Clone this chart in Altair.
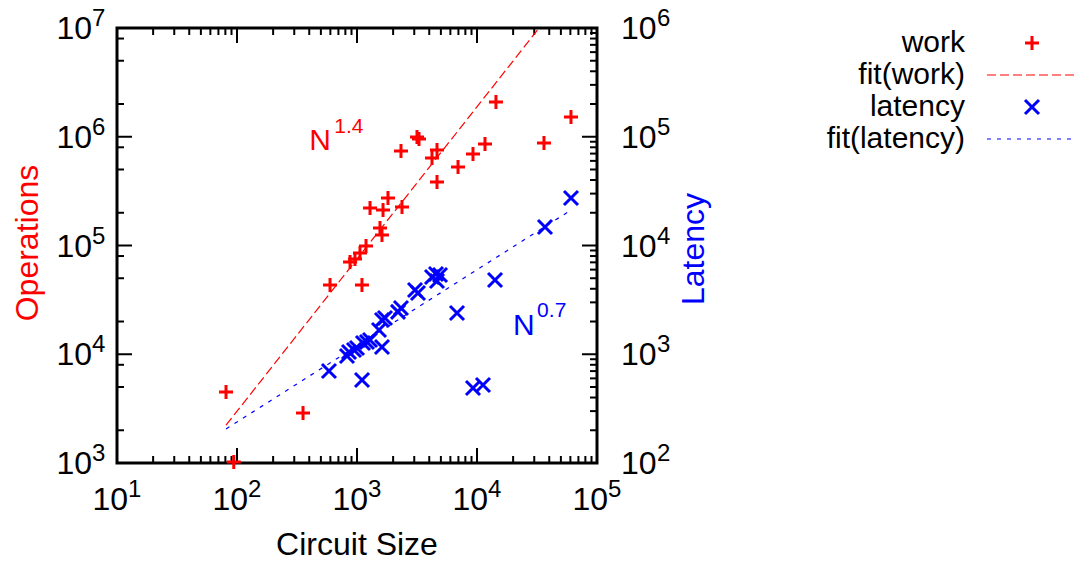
import altair as alt
import pandas as pd

FONT = "Liberation Sans"
RED = "#ff0000"
BLUE = "#0000ff"
W, H = 480, 435

# circuit size vs. operations (work)
work_size = [81, 94, 355, 596, 1100, 875, 962, 1059, 1189, 1555, 1615, 1284, 1648,
             1812, 2371, 2326, 3162, 3286, 4642, 4217, 4642, 6949, 9261, 11660,
             14390, 36150, 60700]
work_ops = [4500, 1020, 2880, 43300, 43300, 70500, 75100, 85300, 98900, 145000,
            125000, 221000, 212000, 273000, 226000, 740000, 995000, 953000,
            755000, 638000, 384000, 527000, 693000, 857000, 2090000, 877000,
            1520000]

# circuit size vs. latency
lat_size = [584, 1101, 825, 858, 944, 1000, 1122, 1211, 1284, 1615, 1525, 1615,
            1711, 2197, 2326, 3044, 3223, 4217, 4552, 4918, 4642, 6813, 14130,
            9261, 11220, 36860, 60700]
lat_cycles = [701, 579, 964, 1049, 1095, 1141, 1268, 1297, 1353, 1167, 1671,
              2066, 2155, 2450, 2663, 3898, 3659, 5129, 5467, 5357, 4718, 2393,
              4819, 490, 521, 14790, 27350]

# power-law fits: value = coef * size ** exponent
work_fit_coef, work_fit_exp = 4.74, 1.4
lat_fit_coef, lat_fit_exp = 9.49, 0.7

# axis decades (powers of ten) and minor tick multipliers
x_decades = [1, 2, 3, 4, 5]
ops_decades = [3, 4, 5, 6, 7]
lat_decades = [2, 3, 4, 5, 6]
ops_minor_mult = [2, 5, 8]
log_minor_mult = [2, 3, 4, 5, 6, 7, 8, 9]

legend_labels = ["work", "fit(work)", "latency", "fit(latency)"]

PLUS = "M-1,0L1,0M0,-1L0,1"
CROSS = "M-1,-1L1,1M-1,1L1,-1"

x_scale = alt.Scale(type="log", domain=[10, 1e5], nice=False)
ops_scale = alt.Scale(type="log", domain=[1e3, 1e7], nice=False)
lat_scale = alt.Scale(type="log", domain=[1e2, 1e6], nice=False)


def X(f):
    return alt.X(f"{f}:Q", scale=x_scale, axis=None)


def YL(f):
    return alt.Y(f"{f}:Q", scale=ops_scale, axis=None)


def YR(f):
    return alt.Y(f"{f}:Q", scale=lat_scale, axis=None)


def one(text):
    return alt.Chart(pd.DataFrame({"t": [text]}))


# ---- data tables ----
work_df = pd.DataFrame({"n": work_size, "v": work_ops})
lat_df = pd.DataFrame({"n": lat_size, "v": lat_cycles})
n_lo = min(work_size + lat_size)
n_hi = max(work_size + lat_size)
work_fit_df = pd.DataFrame({"n": [n_lo, n_hi],
                            "v": [work_fit_coef * n ** work_fit_exp for n in (n_lo, n_hi)]})
lat_fit_df = pd.DataFrame({"n": [n_lo, n_hi],
                           "v": [lat_fit_coef * n ** lat_fit_exp for n in (n_lo, n_hi)]})

x_major = pd.DataFrame({"n": [10.0 ** d for d in x_decades],
                        "base": "10", "exp": [str(d) for d in x_decades]})
x_minor = pd.DataFrame({"n": [m * 10.0 ** d for d in x_decades[:-1] for m in log_minor_mult]})
ops_major = pd.DataFrame({"v": [10.0 ** d for d in ops_decades],
                          "base": "10", "exp": [str(d) for d in ops_decades]})
ops_minor = pd.DataFrame({"v": [m * 10.0 ** d for d in ops_decades[:-1] for m in ops_minor_mult]})
lat_major = pd.DataFrame({"v": [10.0 ** d for d in lat_decades],
                          "base": "10", "exp": [str(d) for d in lat_decades]})
lat_minor = pd.DataFrame({"v": [m * 10.0 ** d for d in lat_decades[:-1] for m in log_minor_mult]})

TICK = dict(color="black", strokeWidth=2)
BIG, SMALL = 15, 7
FS, SUP = 32, 24

# ---- x axis: ticks on bottom and top, labels below ----
x_layers = [
    alt.Chart(x_major).mark_rule(**TICK).encode(x=X("n"), y=alt.value(H), y2=alt.value(H - BIG)),
    alt.Chart(x_major).mark_rule(**TICK).encode(x=X("n"), y=alt.value(0), y2=alt.value(BIG)),
    alt.Chart(x_minor).mark_rule(**TICK).encode(x=X("n"), y=alt.value(H), y2=alt.value(H - SMALL)),
    alt.Chart(x_minor).mark_rule(**TICK).encode(x=X("n"), y=alt.value(0), y2=alt.value(SMALL)),
    alt.Chart(x_major).mark_text(font=FONT, fontSize=FS, align="right", baseline="alphabetic",
                                 dx=11).encode(x=X("n"), y=alt.value(H + 47), text="base:N"),
    alt.Chart(x_major).mark_text(font=FONT, fontSize=SUP, align="left", baseline="alphabetic",
                                 dx=11).encode(x=X("n"), y=alt.value(H + 34), text="exp:N"),
    one("Circuit Size").mark_text(font=FONT, fontSize=FS, align="center", baseline="alphabetic")
    .encode(x=alt.value(W / 2), y=alt.value(H + 92), text="t:N"),
]

# ---- left axis and work series ----
left_layers = [
    alt.Chart(ops_major).mark_rule(**TICK).encode(y=YL("v"), x=alt.value(0), x2=alt.value(BIG)),
    alt.Chart(ops_minor).mark_rule(**TICK).encode(y=YL("v"), x=alt.value(0), x2=alt.value(SMALL)),
    alt.Chart(ops_major).mark_text(font=FONT, fontSize=FS, align="right", baseline="alphabetic",
                                   dy=11).encode(y=YL("v"), x=alt.value(-25), text="base:N"),
    alt.Chart(ops_major).mark_text(font=FONT, fontSize=SUP, align="left", baseline="alphabetic",
                                   dy=-2).encode(y=YL("v"), x=alt.value(-25), text="exp:N"),
    one("Operations").mark_text(font=FONT, fontSize=FS, color=RED, angle=270,
                                align="center", baseline="middle")
    .encode(x=alt.value(-89), y=alt.value(215), text="t:N"),
    alt.Chart(work_fit_df).mark_line(color=RED, strokeWidth=1.2, strokeDash=[9, 4], clip=True)
    .encode(x=X("n"), y=YL("v")),
    alt.Chart(work_df).mark_point(shape=PLUS, filled=False, size=196, strokeWidth=3,
                                  color=RED, opacity=1).encode(x=X("n"), y=YL("v")),
]

n14 = pd.DataFrame({"n": [400], "v": [7.5e5], "base": ["N"], "sup": ["1.4"]})
left_layers += [
    alt.Chart(n14).mark_text(font=FONT, fontSize=30, color=RED, align="left", baseline="alphabetic")
    .encode(x=X("n"), y=YL("v"), text="base:N"),
    alt.Chart(n14).mark_text(font=FONT, fontSize=21, color=RED, align="left", baseline="alphabetic",
                             dx=25, dy=-17).encode(x=X("n"), y=YL("v"), text="sup:N"),
]

# ---- right axis and latency series ----
right_layers = [
    alt.Chart(lat_major).mark_rule(**TICK).encode(y=YR("v"), x=alt.value(W), x2=alt.value(W - BIG)),
    alt.Chart(lat_minor).mark_rule(**TICK).encode(y=YR("v"), x=alt.value(W), x2=alt.value(W - SMALL)),
    alt.Chart(lat_major).mark_text(font=FONT, fontSize=FS, align="left", baseline="alphabetic",
                                   dy=11).encode(y=YR("v"), x=alt.value(W + 24), text="base:N"),
    alt.Chart(lat_major).mark_text(font=FONT, fontSize=SUP, align="left", baseline="alphabetic",
                                   dy=-2).encode(y=YR("v"), x=alt.value(W + 60), text="exp:N"),
    one("Latency").mark_text(font=FONT, fontSize=FS, color=BLUE, angle=270,
                             align="center", baseline="middle")
    .encode(x=alt.value(W + 97), y=alt.value(221), text="t:N"),
    alt.Chart(lat_fit_df).mark_line(color=BLUE, strokeWidth=1.2, strokeDash=[4, 6], clip=True)
    .encode(x=X("n"), y=YR("v")),
    alt.Chart(lat_df).mark_point(shape=CROSS, filled=False, size=196, strokeWidth=3,
                                 color=BLUE, opacity=1).encode(x=X("n"), y=YR("v")),
]

n07 = pd.DataFrame({"n": [20000], "v": [1500], "base": ["N"], "sup": ["0.7"]})
right_layers += [
    alt.Chart(n07).mark_text(font=FONT, fontSize=30, color=BLUE, align="left", baseline="alphabetic")
    .encode(x=X("n"), y=YR("v"), text="base:N"),
    alt.Chart(n07).mark_text(font=FONT, fontSize=21, color=BLUE, align="left", baseline="alphabetic",
                             dx=24, dy=-18).encode(x=X("n"), y=YR("v"), text="sup:N"),
]

# ---- key: labels right-aligned, samples to their right ----
key_x_text, key_x_sym, key_line = W + 368, W + 435, (W + 390, W + 481)
key_rows = [15 + 32 * i for i in range(len(legend_labels))]
key_layers = []
for label, ky in zip(legend_labels, key_rows):
    key_layers.append(one(label).mark_text(font=FONT, fontSize=30, align="right", baseline="middle")
                      .encode(x=alt.value(key_x_text), y=alt.value(ky), text="t:N"))
key_layers += [
    one("work").mark_point(shape=PLUS, filled=False, size=196, strokeWidth=3, color=RED, opacity=1)
    .encode(x=alt.value(key_x_sym), y=alt.value(key_rows[0])),
    one("fit(work)").mark_rule(color=RED, strokeWidth=1.2, strokeDash=[9, 4])
    .encode(x=alt.value(key_line[0]), x2=alt.value(key_line[1]), y=alt.value(key_rows[1])),
    one("latency").mark_point(shape=CROSS, filled=False, size=196, strokeWidth=3, color=BLUE, opacity=1)
    .encode(x=alt.value(key_x_sym), y=alt.value(key_rows[2])),
    one("fit(latency)").mark_rule(color=BLUE, strokeWidth=1.2, strokeDash=[4, 6])
    .encode(x=alt.value(key_line[0]), x2=alt.value(key_line[1] - 6), y=alt.value(key_rows[3])),
]

left = alt.layer(*x_layers, *left_layers, *key_layers)
right = alt.layer(*right_layers)

chart = (
    alt.layer(left, right)
    .resolve_scale(y="independent")
    .properties(
        width=W,
        height=H,
        autosize=alt.AutoSizeParams(type="none"),
        padding={"left": 117, "top": 28, "right": 1091 - 117 - W, "bottom": 564 - 28 - H},
        background="white",
    )
    .configure_view(stroke="black", strokeWidth=3)
)

chart.save("out.html", embed_options={"renderer": "svg", "actions": False})
